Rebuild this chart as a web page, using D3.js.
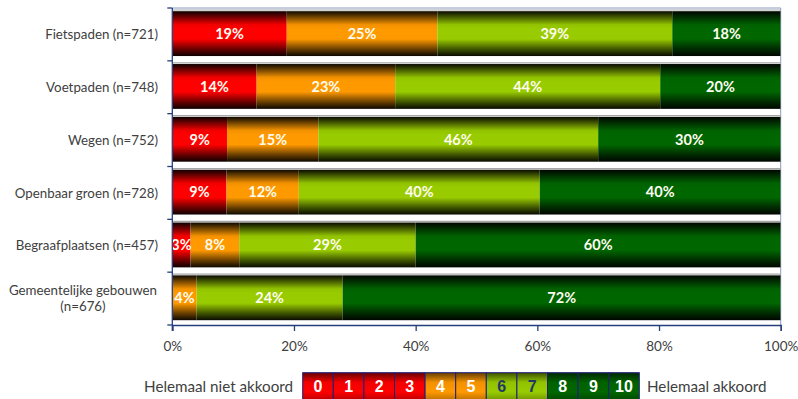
<!DOCTYPE html>
<html>
<head>
<meta charset="utf-8">
<script src="https://cdn.jsdelivr.net/npm/d3@7"></script>
<style>
  html, body { margin: 0; padding: 0; background: #fff; }
  svg { display: block; }
</style>
</head>
<body>
<svg id="chart" width="798" height="399"></svg>
<script>
// ---------- data ----------
const categories = [
  "Fietspaden (n=721)",
  "Voetpaden (n=748)",
  "Wegen (n=752)",
  "Openbaar groen (n=728)",
  "Begraafplaatsen (n=457)",
  "Gemeentelijke gebouwen (n=676)"
];
const groupKeys = ["0-3", "4-5", "6-7", "8-10"];
const score0to3  = [19, 14,  9,  9,  3,  0];
const score4to5  = [25, 23, 15, 12,  8,  4];
const score6to7  = [39, 44, 46, 40, 29, 24];
const score8to10 = [18, 20, 30, 40, 60, 72];
const groupColors = ["#FF0000", "#FF9900", "#99CC00", "#006600"];
const xTickValues = [0, 20, 40, 60, 80, 100];
const legendScores = ["0","1","2","3","4","5","6","7","8","9","10"];
const legendGroup  = [0,0,0,0,1,1,2,2,3,3,3];
const legendLeftText = "Helemaal niet akkoord";
const legendRightText = "Helemaal akkoord";

// ---------- build ----------
const rows = categories.map((c, i) => ({
  cat: c,
  "0-3": score0to3[i], "4-5": score4to5[i], "6-7": score6to7[i], "8-10": score8to10[i]
}));
const stacked = d3.stack().keys(groupKeys).offset(d3.stackOffsetExpand)(rows);

const svg = d3.select("#chart");
const m = { left: 172.3, right: 780.7, top: 8, bottom: 325 };
const x = d3.scaleLinear().domain([0, 1]).range([m.left, m.right]);
const y = d3.scaleBand().domain(categories).range([m.top, m.bottom]).paddingInner(0).paddingOuter(0);
const axisColor = "#243F7C";
const textColor = "#404040";
const fontFamily = "Lato, 'Open Sans', sans-serif";

// gradients
const defs = svg.append("defs");
function mix(c, t) { return d3.interpolateRgb(c, "#000")(t); }
groupColors.forEach((c, i) => {
  const g = defs.append("linearGradient").attr("id", "grad" + i)
    .attr("x1", 0).attr("y1", 0).attr("x2", 0).attr("y2", 1);
  [[0, 0.95], [0.1, 0.65], [0.3, 0.05], [0.4, 0], [0.62, 0], [0.85, 0.6], [1, 0.95]].forEach(([o, t]) => {
    g.append("stop").attr("offset", o).attr("stop-color", mix(c, t));
  });
  const lg = defs.append("linearGradient").attr("id", "lgrad" + i)
    .attr("x1", 0).attr("y1", 0).attr("x2", 0).attr("y2", 1);
  [[0, 0.6], [0.3, 0.05], [0.6, 0], [1, 0.4]].forEach(([o, t]) => {
    lg.append("stop").attr("offset", o).attr("stop-color", mix(c, t));
  });
});
defs.append("clipPath").attr("id", "plotClip").append("rect")
  .attr("x", m.left).attr("y", m.top).attr("width", m.right - m.left).attr("height", m.bottom - m.top);

const bw = y.bandwidth();
const barOff = 3.2, barH = bw - 8;

// plot frame (top/right)
svg.append("path")
  .attr("d", `M${m.left},${m.top}H${m.right}V${m.bottom}`)
  .attr("fill", "none").attr("stroke", "#8A9AC0").attr("stroke-width", 1);

// thin grey lines above each bar
svg.append("g").selectAll("line").data(categories).join("line")
  .attr("x1", m.left).attr("x2", m.right)
  .attr("y1", d => y(d) + barOff - 1.2).attr("y2", d => y(d) + barOff - 1.2)
  .attr("stroke", "#A6A6A6").attr("stroke-width", 1.2);

const plot = svg.append("g").attr("clip-path", "url(#plotClip)");
stacked.forEach((layer, li) => {
  plot.append("g").selectAll("rect").data(layer).join("rect")
    .attr("x", d => x(d[0]))
    .attr("y", d => y(d.data.cat) + barOff)
    .attr("width", d => Math.max(0, x(d[1]) - x(d[0])))
    .attr("height", barH)
    .attr("fill", `url(#grad${li})`);
});
stacked.forEach((layer, li) => {
  plot.append("g").selectAll("text").data(layer.filter(d => d.data[layer.key] > 0)).join("text")
    .attr("x", d => (x(d[0]) + x(d[1])) / 2)
    .attr("y", d => y(d.data.cat) + barOff + barH / 2)
    .attr("dy", "0.36em")
    .attr("text-anchor", "middle")
    .attr("font-family", fontFamily).attr("font-weight", "bold").attr("font-size", 14.5)
    .attr("fill", "#FFFDF2")
    .text(d => d.data[layer.key] + "%");
});

// y axis
const yAxisG = svg.append("g");
yAxisG.append("line").attr("x1", m.left).attr("x2", m.left).attr("y1", m.top).attr("y2", m.bottom + 6)
  .attr("stroke", axisColor).attr("stroke-width", 1.3);
const boundaries = categories.map(c => y(c)).concat([m.bottom]);
yAxisG.selectAll("line.t").data(boundaries).join("line").attr("class", "t")
  .attr("x1", m.left - 5).attr("x2", m.left).attr("y1", d => d).attr("y2", d => d)
  .attr("stroke", axisColor).attr("stroke-width", 1.3);

// category labels
const labelG = svg.append("g").attr("font-family", fontFamily).attr("font-size", 13.3).attr("fill", textColor);
categories.forEach(c => {
  const cy = y(c) + bw / 2;
  const t = labelG.append("text").attr("x", 158).attr("y", cy).attr("dy", "0.35em")
    .attr("text-anchor", "end").text(c);
  if (t.node().getComputedTextLength() > 150) {
    t.remove();
    const idx = c.lastIndexOf(" (");
    const lines = [c.slice(0, idx), c.slice(idx + 1)];
    const w = labelG.append("text").attr("text-anchor", "middle").attr("x", 83);
    lines.forEach((ln, k) => {
      w.append("tspan").attr("x", 83).attr("y", cy + (k - 0.5) * 16).attr("dy", "0.35em").text(ln);
    });
  }
});

// x axis
const xAxis = d3.axisBottom(d3.scaleLinear().domain([0, 100]).range([m.left, m.right]))
  .tickValues(xTickValues).tickFormat(d => d + "%").tickSize(6).tickPadding(10);
const xg = svg.append("g").attr("transform", `translate(0,${m.bottom})`).call(xAxis);
xg.select(".domain").attr("stroke", axisColor).attr("stroke-width", 1.3);
xg.selectAll(".tick line").attr("stroke", axisColor).attr("stroke-width", 1.3);
xg.selectAll(".tick text").attr("font-family", fontFamily).attr("font-size", 13.5).attr("fill", textColor);

// legend
const lx0 = 302.7, lx1 = 639.3, ly0 = 372.7, lh = 32;
const lcw = (lx1 - lx0) / legendScores.length;
const lg = svg.append("g");
legendScores.forEach((s, i) => {
  const gi = legendGroup[i];
  lg.append("rect").attr("x", lx0 + i * lcw).attr("y", ly0).attr("width", lcw).attr("height", lh)
    .attr("fill", `url(#lgrad${gi})`).attr("stroke", "#1F1F7A").attr("stroke-width", 1);
  lg.append("text").attr("x", lx0 + (i + 0.5) * lcw).attr("y", 386.5).attr("dy", "0.36em")
    .attr("text-anchor", "middle").attr("font-family", "'Liberation Sans Narrow', 'Liberation Sans', Arial, sans-serif")
    .attr("font-weight", "bold").attr("font-size", 16)
    .attr("fill", gi === 2 ? "#1F3864" : "#FFFFFF").text(s);
});
lg.append("text").attr("x", 293).attr("y", 386.5).attr("dy", "0.36em").attr("text-anchor", "end")
  .attr("font-family", fontFamily).attr("font-size", 15.2).attr("fill", textColor).text(legendLeftText);
lg.append("text").attr("x", 647).attr("y", 386.5).attr("dy", "0.36em").attr("text-anchor", "start")
  .attr("font-family", fontFamily).attr("font-size", 15.2).attr("fill", textColor).text(legendRightText);
</script>
</body>
</html>
